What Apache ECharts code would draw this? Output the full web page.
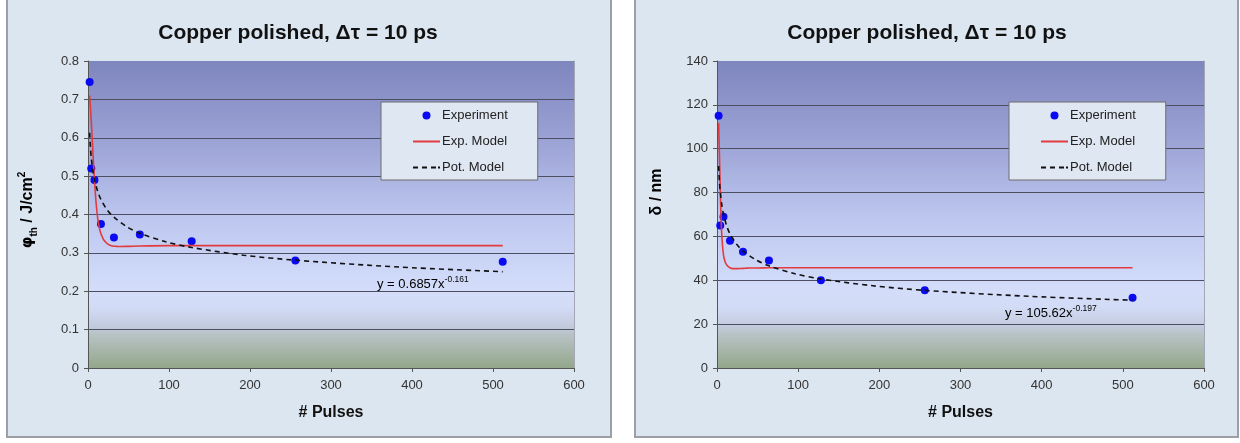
<!DOCTYPE html>
<html>
<head>
<meta charset="utf-8">
<script src="https://cdn.jsdelivr.net/npm/echarts@6/dist/echarts.min.js"></script>
<style>
  html, body { margin: 0; padding: 0; background: #ffffff; }
  body { width: 1240px; height: 443px; position: relative; overflow: hidden; }
  .panel { position: absolute; top: -3px; height: 441px; background: #dce6f1; border: 2px solid #9c9fa6; box-sizing: border-box; }
  #chart { position: absolute; left: 0; top: 0; width: 1240px; height: 443px; }
</style>
</head>
<body>
<div class="panel" style="left:6px; width:606px;"></div>
<div class="panel" style="left:634px; width:605px;"></div>
<div id="chart"></div>
<script>
// Number of laser pulses at which the measurements were taken
const pulses = [2, 4, 8, 16, 32, 64, 128, 256, 512];

// Threshold fluence, J/cm^2
const phiExperiment = [0.745, 0.52, 0.49, 0.375, 0.34, 0.348, 0.33, 0.28, 0.277];
// Penetration depth, nm
const deltaExperiment = [115, 65, 69, 58, 53, 49, 40, 35.5, 32];

// Exponential model curves
const expModelX = [2, 3, 4, 5, 6, 7, 8, 10, 12, 14, 16, 18, 20, 25, 30, 35, 40, 50, 64, 100, 200, 300, 400, 512];
const phiExpModel = [0.71, 0.68, 0.645, 0.605, 0.565, 0.525, 0.49, 0.43, 0.39, 0.365, 0.35, 0.34, 0.332, 0.322, 0.318, 0.317, 0.3165, 0.317, 0.318, 0.319, 0.319, 0.319, 0.319, 0.319];
const deltaExpModel = [111.7, 97, 82, 69, 60, 55, 51.5, 48.5, 47, 46.2, 45.7, 45.4, 45.3, 45.3, 45.4, 45.5, 45.6, 45.6, 45.7, 45.7, 45.7, 45.7, 45.7, 45.7];

// Power-law model curves
const potModelX = [2, 3, 4, 6, 8, 12, 16, 24, 32, 48, 64, 96, 128, 192, 256, 384, 512];
const phiPotModel = [0.613, 0.575, 0.549, 0.514, 0.491, 0.460, 0.439, 0.411, 0.393, 0.368, 0.351, 0.329, 0.314, 0.294, 0.281, 0.263, 0.251];
const deltaPotModel = [92.1, 85.1, 80.4, 74.2, 70.1, 64.7, 61.2, 56.5, 53.4, 49.3, 46.6, 43.0, 40.6, 37.5, 35.4, 32.7, 30.9];

// Axis ranges and labels
const xTicks = { min: 0, max: 600, interval: 100 };
const phiTicks = { min: 0, max: 0.8, interval: 0.1 };
const deltaTicks = { min: 0, max: 140, interval: 20 };
const titleText = 'Copper polished, \u0394\u03c4 = 10 ps';
const xName = '# Pulses';
const legendNames = ['Experiment', 'Exp. Model', 'Pot. Model'];
const phiFit = ['y = 0.6857x', '-0.161'];
const deltaFit = ['y = 105.62x', '-0.197'];

const FONT = '"Liberation Sans", Arial, sans-serif';
const zip = (xs, ys) => xs.map((x, i) => [x, ys[i]]);

const plotFill = {
  type: 'linear', x: 0, y: 0, x2: 0, y2: 1,
  colorStops: [
    { offset: 0, color: '#7e86be' },
    { offset: 0.25, color: '#9aa1d4' },
    { offset: 0.5, color: '#bcc5ee' },
    { offset: 0.74, color: '#d3ddfa' },
    { offset: 0.8, color: '#d3dcf6' },
    { offset: 0.86, color: '#c4cce0' },
    { offset: 0.89, color: '#b8c3c6' },
    { offset: 1, color: '#93a78a' }
  ]
};

// Legend keys: a dot, a solid stroke and a dashed stroke
const legendIcons = {
  'Experiment': 'circle',
  'Exp. Model': 'path://M0,0H27V2H0Z',
  'Pot. Model': 'path://M0,0H5V2H0Z M9,0H14V2H9Z M18,0H23V2H18Z M25,0H27V2H25Z'
};

function xAxis(gridIndex) {
  return {
    type: 'value', gridIndex, ...xTicks,
    name: xName, nameLocation: 'middle', nameGap: 37,
    nameTextStyle: { fontFamily: FONT, fontSize: 16, fontWeight: 'bold', color: '#111' },
    axisLine: { show: true, onZero: false, lineStyle: { color: '#555', width: 1 } },
    axisTick: { show: true, inside: false, length: 4, lineStyle: { color: '#555' } },
    axisLabel: { margin: 11, fontFamily: FONT, fontSize: 13, color: '#333' },
    splitLine: { show: false }
  };
}
function yAxis(gridIndex, ticks) {
  return {
    type: 'value', gridIndex, ...ticks,
    axisLine: { show: true, onZero: false, lineStyle: { color: '#555', width: 1 } },
    axisTick: { show: true, inside: false, length: 4, lineStyle: { color: '#555' } },
    axisLabel: { margin: 9, fontFamily: FONT, fontSize: 13, color: '#333' },
    splitLine: { show: true, showMinLine: false, showMaxLine: false, lineStyle: { color: '#4c4f62', width: 1 } }
  };
}
function rightEdge(gridIndex, ticks) {
  return {
    type: 'value', gridIndex, position: 'right', ...ticks,
    axisLine: { show: true, onZero: false, lineStyle: { color: '#a4a8b6', width: 1 } },
    axisTick: { show: false }, axisLabel: { show: false }, splitLine: { show: false }
  };
}
function legend(left) {
  return {
    data: legendNames.map(n => ({ name: n, icon: legendIcons[n] })),
    orient: 'vertical', left, top: 102,
    padding: [7, 30, 6, 32], itemGap: 13, itemWidth: 27, itemHeight: 8,
    symbolKeepAspect: true,
    borderColor: '#6e6e6e', borderWidth: 1, backgroundColor: '#dfe7f2',
    selectedMode: false,
    textStyle: { fontFamily: FONT, fontSize: 13, color: '#222', padding: [0, 0, 0, -3] }
  };
}
function seriesFor(idx, expVals, expModel, potModel) {
  return [
    { name: legendNames[0], type: 'scatter', xAxisIndex: idx, yAxisIndex: idx,
      data: zip(pulses, expVals), symbol: 'circle', symbolSize: 8,
      itemStyle: { color: '#0a0af2', opacity: 1 } },
    { name: legendNames[1], type: 'line', xAxisIndex: idx, yAxisIndex: idx,
      data: zip(expModelX, expModel), symbol: 'none', showSymbol: false, smooth: 0.3,
      lineStyle: { color: '#e23a3f', width: 1.6 }, itemStyle: { color: '#e23a3f' } },
    { name: legendNames[2], type: 'line', xAxisIndex: idx, yAxisIndex: idx,
      data: zip(potModelX, potModel), symbol: 'none', showSymbol: false, smooth: 0.3,
      lineStyle: { color: '#111', width: 1.6, type: [5, 4] }, itemStyle: { color: '#111' } }
  ];
}
function titleEl(x) {
  return { type: 'text', x, y: 33, z: 10,
    style: { text: titleText, align: 'center', verticalAlign: 'middle',
      font: 'bold 21px ' + FONT, fill: '#111' } };
}
function fitEl(x, y, parts) {
  return { type: 'text', x, y, z: 10,
    style: { text: '{a|' + parts[0] + '}{s|' + parts[1] + '}', align: 'left', verticalAlign: 'middle',
      rich: {
        a: { fontFamily: FONT, fontSize: 13, color: '#222', lineHeight: 18 },
        s: { fontFamily: FONT, fontSize: 8.5, color: '#222', lineHeight: 9, verticalAlign: 'top' }
      } } };
}
const nameRich = {
  a: { fontFamily: FONT, fontSize: 16, fontWeight: 'bold', color: '#111', lineHeight: 22 },
  phi: { fontFamily: '"DejaVu Sans", sans-serif', fontSize: 15, fontWeight: 'bold', color: '#111', lineHeight: 22 },
  sub: { fontFamily: FONT, fontSize: 10, fontWeight: 'bold', color: '#111', lineHeight: 12, verticalAlign: 'bottom' },
  sup: { fontFamily: FONT, fontSize: 10, fontWeight: 'bold', color: '#111', lineHeight: 12, verticalAlign: 'top' }
};
function yNameEl(x, y, text) {
  return { type: 'text', x, y, rotation: Math.PI / 2, z: 10,
    style: { text, rich: nameRich, align: 'center', verticalAlign: 'middle' } };
}

const chart = echarts.init(document.getElementById('chart'), null, { renderer: 'canvas' });
chart.setOption({
  animation: false,
  backgroundColor: 'transparent',
  grid: [
    { left: 88, top: 61, width: 486, height: 307, show: true, borderWidth: 0, backgroundColor: plotFill },
    { left: 717, top: 61, width: 487, height: 307, show: true, borderWidth: 0, backgroundColor: plotFill }
  ],
  xAxis: [xAxis(0), xAxis(1)],
  yAxis: [yAxis(0, phiTicks), yAxis(1, deltaTicks), rightEdge(0, phiTicks), rightEdge(1, deltaTicks)],
  legend: [legend(381), legend(1009)],
  series: [
    ...seriesFor(0, phiExperiment, phiExpModel, phiPotModel),
    ...seriesFor(1, deltaExperiment, deltaExpModel, deltaPotModel)
  ],
  graphic: [
    titleEl(298), titleEl(927),
    yNameEl(28, 210, '{phi|\u03c6}{sub|th}{a| / J/cm}{sup|2}'),
    yNameEl(657, 192, '{a|\u03b4 / nm}'),
    fitEl(377, 284, phiFit),
    fitEl(1005, 313, deltaFit)
  ]
});
</script>
</body>
</html>
